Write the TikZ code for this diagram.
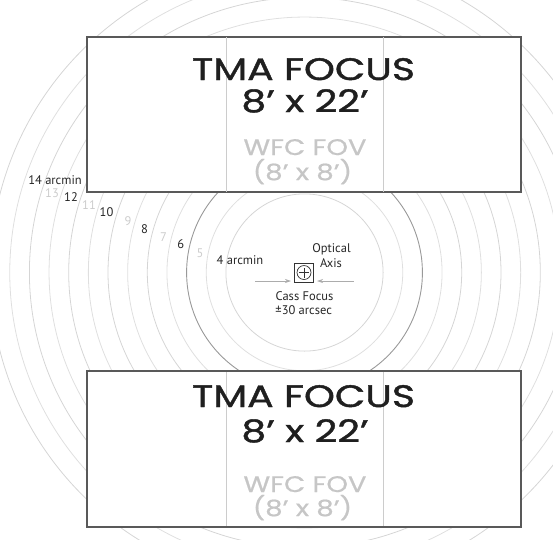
\documentclass[tikz,border=0pt]{standalone}
\usepackage{fontspec}
\setmainfont{PT Sans}
\newfontfamily\geo[FakeStretch=1.27,FakeBold=1.3]{Poppins}
\newfontfamily\geol[FakeStretch=1.22,FakeBold=0.6]{Poppins}
\usetikzlibrary{arrows.meta}
\begin{document}
\begin{tikzpicture}[x=1pt,y=-1pt,
  ring/.style={draw=gray!33,line width=0.8pt},
  ringodd/.style={draw=gray!25,line width=0.8pt},
  ringdark/.style={draw=gray!80,line width=0.9pt},
  fovbox/.style={draw=black!65,line width=1.4pt,fill=white,inner sep=0pt,
    minimum width=433pt,minimum height=154.5pt,anchor=north west},
  divider/.style={draw=gray!40,line width=0.9pt},
  big/.style={font=\geo\fontsize{31}{31}\selectfont,text=black!88,anchor=base,inner sep=0pt},
  wfc/.style={font=\geol\fontsize{22.5}{22.5}\selectfont,text=gray!45,anchor=base,inner sep=0pt},
  lab/.style={font=\fontsize{12.5}{12.5}\selectfont,text=black!85,inner sep=0pt,anchor=base},
  labl/.style={lab,text=gray!40},
  axisarrow/.style={draw=gray!65,line width=0.7pt,-{Stealth[length=6pt,width=4pt]}},
  markbox/.style={draw=black!80,line width=0.8pt,minimum size=19pt,inner sep=0pt}
]
\useasboundingbox (0,0) rectangle (553,539);
\coordinate (c) at (304.5,272.5);
% rings
\begin{scope}
  \clip (0,0) rectangle (553,539);
  \foreach \r in {5,7,...,15} \draw[ringodd] (c) circle[radius=19.65*\r];
  \foreach \r in {4,8,10,...,16} \draw[ring] (c) circle[radius=19.65*\r];
  \draw[ringdark] (c) circle[radius=19.65*6];
\end{scope}
% fields
\node[fovbox] (topbox) at (87,36.5) {};
\node[fovbox] (botbox) at (87,371) {};
\coordinate (d1) at (226,0);
\coordinate (d2) at (383,0);
\foreach \b in {topbox,botbox}{
  \draw[divider] (\b.north -| d1) -- (\b.south -| d1);
  \draw[divider] (\b.north -| d2) -- (\b.south -| d2);
  \draw[draw=black!65,line width=1.4pt] (\b.north west) rectangle (\b.south east);
}
% texts top
\node[big] (tma1) at (303.5,80) {TMA FOCUS};
\node[big] (siz1) at (305,112) {8’ x 22’};
\node[wfc] (wfc1) at (305,155) {WFC FOV};
\node[wfc] (wsz1) at (302.5,180) {(8’ x 8’)};
% texts bottom
\node[big] (tma2) at (303.5,407) {TMA FOCUS};
\node[big] (siz2) at (305,442) {8’ x 22’};
\node[wfc] (wfc2) at (305,492) {WFC FOV};
\node[wfc] (wsz2) at (302.5,516) {(8’ x 8’)};
% ring labels
\node[lab] (l14) at (55,184) {14 arcmin};
\node[labl] (l13) at (52,197.5) {13};
\node[lab] (l12) at (71,201) {12};
\node[labl] (l11) at (89,209) {11};
\node[lab] (l10) at (106.5,216.5) {10};
\node[labl] (l9) at (128,225) {9};
\node[lab] (l8) at (144.5,233) {8};
\node[labl] (l7) at (163.5,241.5) {7};
\node[lab] (l6) at (180.7,248.5) {6};
\node[labl] (l5) at (200,257.5) {5};
\node[lab] (l4) at (240,264) {4 arcmin};
% optical axis marker
\node[markbox] (mk) at (304,272.5) {};
\node[draw=black!80,line width=0.7pt,circle,minimum size=14pt,inner sep=0pt] (mkc) at (mk.center) {};
\draw[black!80,line width=0.7pt] ([xshift=-5pt]mk.center) -- ([xshift=5pt]mk.center);
\draw[black!80,line width=0.7pt] ([yshift=-5pt]mk.center) -- ([yshift=5pt]mk.center);
\node[lab] (opt) at (331.5,252) {Optical};
\node[lab] (axs) at (331,267.5) {Axis};
\node[lab] (cass) at (304.5,300) {Cass Focus};
\node[lab] (pm) at (303.7,314.3) {±30 arcsec};
\coordinate (al) at (255,281);
\coordinate (ar) at (353.5,281);
\coordinate (alt) at (291,281);
\coordinate (art) at (317,281);
\draw[axisarrow] (al) -- (alt);
\draw[axisarrow] (ar) -- (art);
\end{tikzpicture}
\end{document}
